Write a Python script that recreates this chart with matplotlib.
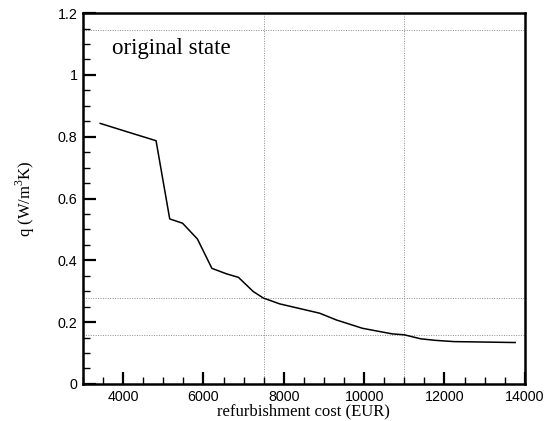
import matplotlib
matplotlib.use("Agg")
import matplotlib.pyplot as plt
from matplotlib.ticker import MultipleLocator

# refurbishment cost vs specific heat loss
cost = [3430, 4070, 4820, 5160, 5480, 5850, 6210, 6580, 6870, 7240, 7490,
        7900, 8890, 9310, 9960, 10700, 11000, 11410, 11780, 12240, 13270, 13760]
q = [0.843, 0.817, 0.787, 0.534, 0.520, 0.469, 0.374, 0.356, 0.345, 0.299, 0.278,
     0.259, 0.229, 0.207, 0.180, 0.162, 0.159, 0.146, 0.141, 0.137, 0.135, 0.134]

# dotted reference lines
ref_x = [7500, 11000]
ref_y = [0.278, 0.158, 1.145]

plt.rcParams["mathtext.fontset"] = "custom"
plt.rcParams["mathtext.rm"] = "Liberation Serif"

fig = plt.figure(figsize=(5.53, 4.21), dpi=100)
ax = fig.add_axes([0.150, 0.088, 0.799, 0.881])

for xv in ref_x:
    ax.axvline(xv, color="0.55", lw=0.7, ls=(0, (1, 1.5)), zorder=1)
for yv in ref_y:
    ax.axhline(yv, color="0.55", lw=0.7, ls=(0, (1, 1.5)), zorder=1)

ax.plot(cost, q, color="black", lw=1.1, zorder=3)

ax.set_xlim(3000, 14000)
ax.set_ylim(0, 1.2)
ax.xaxis.set_major_locator(MultipleLocator(2000))
ax.xaxis.set_minor_locator(MultipleLocator(500))
ax.yaxis.set_minor_locator(MultipleLocator(0.05))
ax.set_yticks([0, 0.2, 0.4, 0.6, 0.8, 1, 1.2], ["0", "0.2", "0.4", "0.6", "0.8", "1", "1.2"])

ax.tick_params(which="major", direction="in", length=9, width=1.6, labelsize=10.3, pad=4)
ax.tick_params(which="minor", direction="in", length=5, width=1.0)
for lab in ax.get_xticklabels() + ax.get_yticklabels():
    lab.set_family("Liberation Sans")
for s in ax.spines.values():
    s.set_linewidth(1.8)

ax.set_xlabel("refurbishment cost (EUR)", family="Liberation Serif", fontsize=12, labelpad=0)
ax.set_ylabel("q (W/m$^3$K)", family="Liberation Serif", fontsize=12, labelpad=15)

ax.text(0.065, 0.905, "original state", transform=ax.transAxes,
        family="Liberation Serif", fontsize=16.5, va="center")

fig.savefig("out.png", dpi=100)
